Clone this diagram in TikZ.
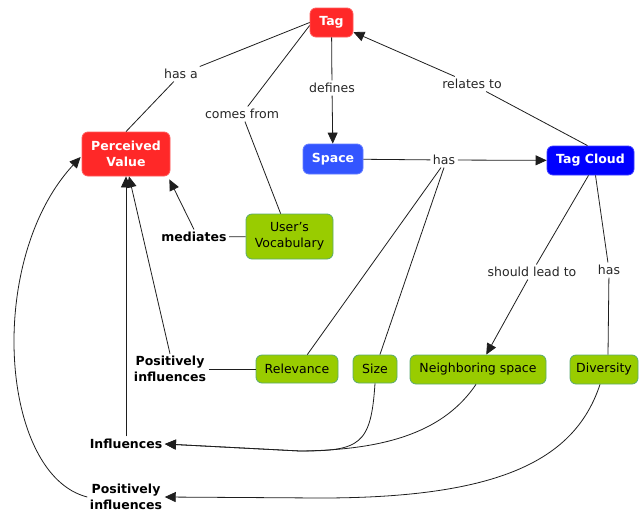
\documentclass[tikz,border=0pt]{standalone}
\usepackage{fontspec}
\setmainfont{DejaVu Sans}
\usetikzlibrary{arrows.meta}
\definecolor{cred}{RGB}{255,40,40}
\definecolor{credb}{RGB}{255,90,90}
\definecolor{cblue}{RGB}{51,85,255}
\definecolor{cblueb}{RGB}{100,125,255}
\definecolor{cdblue}{RGB}{0,0,255}
\definecolor{cdblueb}{RGB}{60,60,255}
\definecolor{cgreen}{RGB}{153,204,0}
\definecolor{cgreenb}{RGB}{90,170,110}
\definecolor{clink}{RGB}{30,30,30}
\tikzset{
  x=1pt, y=-1pt,
  concept/.style={rounded corners=6pt, line width=0.8pt, inner sep=0pt, align=center,
    font=\fontsize{12.5}{16}\selectfont},
  redc/.style={concept, fill=cred, draw=credb, text=white, font=\fontsize{12.5}{16}\selectfont\bfseries},
  bluec/.style={concept, fill=cblue, draw=cblueb, text=white, font=\fontsize{12.5}{16}\selectfont\bfseries},
  dbluec/.style={concept, fill=cdblue, draw=cdblueb, text=white, font=\fontsize{12.5}{16}\selectfont\bfseries},
  greenc/.style={concept, fill=cgreen, draw=cgreenb, text=black},
  lbl/.style={inner sep=2.5pt, align=center, text=black!85, font=\fontsize{12.5}{15}\selectfont},
  blbl/.style={inner sep=2.5pt, align=center, text=black, font=\fontsize{12.5}{15.5}\selectfont\bfseries},
  conn/.style={draw=clink, line width=0.8pt},
  arr/.style={conn, -{Triangle[length=11pt,width=10pt]}},
}
\begin{document}
\begin{tikzpicture}
\useasboundingbox (0,0) rectangle (639,512);
% concepts
\node[redc, minimum width=43pt, minimum height=29pt] (tag) at (331.5,22.5) {Tag};
\node[redc, minimum width=88pt, minimum height=44pt] (pv) at (126,154) {Perceived\\Value};
\node[bluec, minimum width=60pt, minimum height=30pt] (space) at (333,159) {Space};
\node[dbluec, minimum width=87pt, minimum height=29pt] (tc) at (590.5,160.5) {Tag Cloud};
\node[greenc, minimum width=87pt, minimum height=45pt] (uv) at (289.5,236.5) {User's\\Vocabulary};
\node[greenc, minimum width=82pt, minimum height=28pt] (rel) at (297,369) {Relevance};
\node[greenc, minimum width=44pt, minimum height=28pt] (size) at (375,369) {Size};
\node[greenc, minimum width=136pt, minimum height=29pt] (nb) at (478,369.5) {Neighboring space};
\node[greenc, minimum width=68pt, minimum height=29pt] (div) at (604,369.5) {Diversity};
% linking phrases
\node[lbl] (hasa) at (181,74) {has a};
\node[lbl] (comes) at (242,114) {comes from};
\node[lbl] (defines) at (332,88) {defines};
\node[lbl] (relates) at (472,84) {relates to};
\node[lbl] (has1) at (444,160) {has};
\node[blbl] (med) at (194,237) {mediates};
\node[lbl] (should) at (532,272) {should lead to};
\node[lbl] (has2) at (609,270) {has};
\node[blbl] (pi1) at (170,369) {Positively\\influences};
\node[blbl] (infl) at (126,444) {Influences};
\node[blbl] (pi2) at (126,497) {Positively\\influences};
% connections
\draw[conn] (pv.north) -- (hasa);
\draw[conn] (hasa) -- (tag.west);
\draw[conn] ([yshift=-3pt]tag.west) -- (comes);
\draw[conn] (comes) -- (uv);
\draw[conn] (tag) -- (defines);
\draw[arr] (defines) -- (space);
\draw[conn] ([xshift=-3pt]tc.north) -- (relates);
\draw[arr] (relates) -- (tag);
\draw[conn] (space) -- (has1);
\draw[arr] (has1) -- (tc);
\draw[conn] ([xshift=-3pt]has1.south) -- (rel);
\draw[conn] (has1.south) -- (size);
\draw[conn] ([xshift=-2pt]tc.south) -- (should);
\draw[arr] (should) -- (nb);
\draw[conn] ([xshift=5pt]tc.south) -- (has2);
\draw[conn] (has2) -- ([xshift=4pt]div.north);
\draw[conn] (uv) -- (med);
\draw[arr] (med.north) -- ([xshift=-1pt,yshift=-3pt]pv.south east);
\draw[conn] (rel) -- (pi1);
\draw[arr] (pi1.north) -- ([xshift=3pt]pv.south);
\draw[arr] (infl.north) -- (pv.south);
\coordinate (j1) at (300,451);
\coordinate (j2) at (320,498);
\draw[arr] (size.south) .. controls (371,445) and (360,451) .. (j1) -- (infl.east);
\draw[arr] ([xshift=-2pt]nb.south) .. controls (445,430) and (390,450) .. (j1) -- (infl.east);
\draw[arr] ([xshift=-4pt]div.south) .. controls (575,460) and (500,498) .. (j2) -- (pi2.east);
\draw[arr] (pi2.west) .. controls (0,475) and (-15,260) .. ([xshift=-1pt,yshift=-3pt]pv.west);
\end{tikzpicture}
\end{document}
